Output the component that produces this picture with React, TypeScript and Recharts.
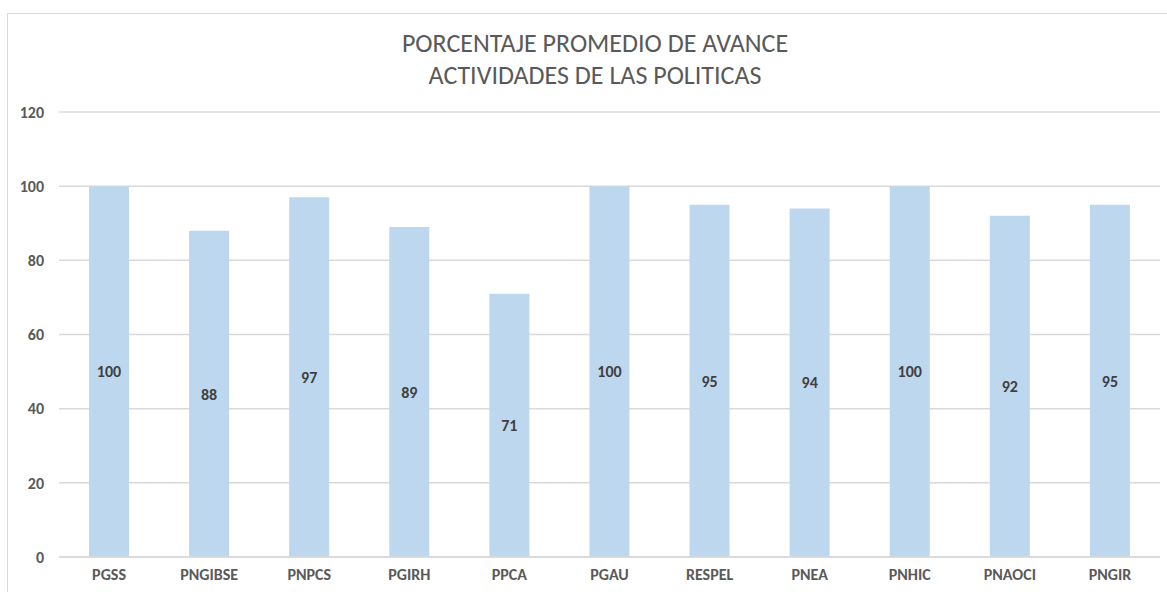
import React from "react";
import { BarChart, Bar, XAxis, YAxis, CartesianGrid, LabelList } from "recharts";

const categories = ["PGSS", "PNGIBSE", "PNPCS", "PGIRH", "PPCA", "PGAU", "RESPEL", "PNEA", "PNHIC", "PNAOCI", "PNGIR"];
const values = [100, 88, 97, 89, 71, 100, 95, 94, 100, 92, 95];
const yTicks = [0, 20, 40, 60, 80, 100, 120];
const titleLines = ["PORCENTAJE PROMEDIO DE AVANCE", "ACTIVIDADES DE LAS POLITICAS"];

const data = categories.map((c, i) => ({ name: c, value: values[i] }));

const FONT = "Carlito, Calibri, 'Open Sans', 'Noto Sans', sans-serif";

export default function App() {
  return (
    <div style={{ position: "absolute", left: 0, top: 0, width: 1167, height: 592, background: "#fff", overflow: "hidden", fontFamily: FONT }}>
      <div style={{ position: "absolute", left: 7, top: 13, width: 1200, height: 620, border: "1px solid #d9d9d9" }} />
      <div style={{ position: "absolute", left: 0, top: 27, width: 1190, textAlign: "center", color: "#595959", fontSize: 26, lineHeight: "32px", fontFamily: FONT }}>
        {titleLines.map((t) => (
          <div key={t}>{t}</div>
        ))}
      </div>
      <div style={{ position: "absolute", left: 0, top: 0 }}>
        <BarChart width={1167} height={592} data={data} margin={{ top: 112, right: 7, bottom: 5, left: 0 }} barCategoryGap={0}>
          <CartesianGrid vertical={false} stroke="#d9d9d9" strokeWidth={1.5} />
          <YAxis
            width={59}
            domain={[0, 120]}
            ticks={yTicks}
            axisLine={false}
            tickLine={false}
            tickMargin={9}
            tick={{ fill: "#595959", fontSize: 16, fontWeight: 700, fontFamily: FONT }}
          />
          <XAxis
            dataKey="name"
            axisLine={{ stroke: "#d9d9d9", strokeWidth: 1.5 }}
            tickLine={false}
            tickMargin={6}
            interval={0}
            tick={{ fill: "#595959", fontSize: 16, fontWeight: 700, fontFamily: FONT }}
          />
          <Bar dataKey="value" fill="#BDD7EE" barSize={40} isAnimationActive={false}>
            <LabelList dataKey="value" position="center" fill="#404040" fontSize={16} fontWeight={700} fontFamily={FONT} />
          </Bar>
        </BarChart>
      </div>
    </div>
  );
}
